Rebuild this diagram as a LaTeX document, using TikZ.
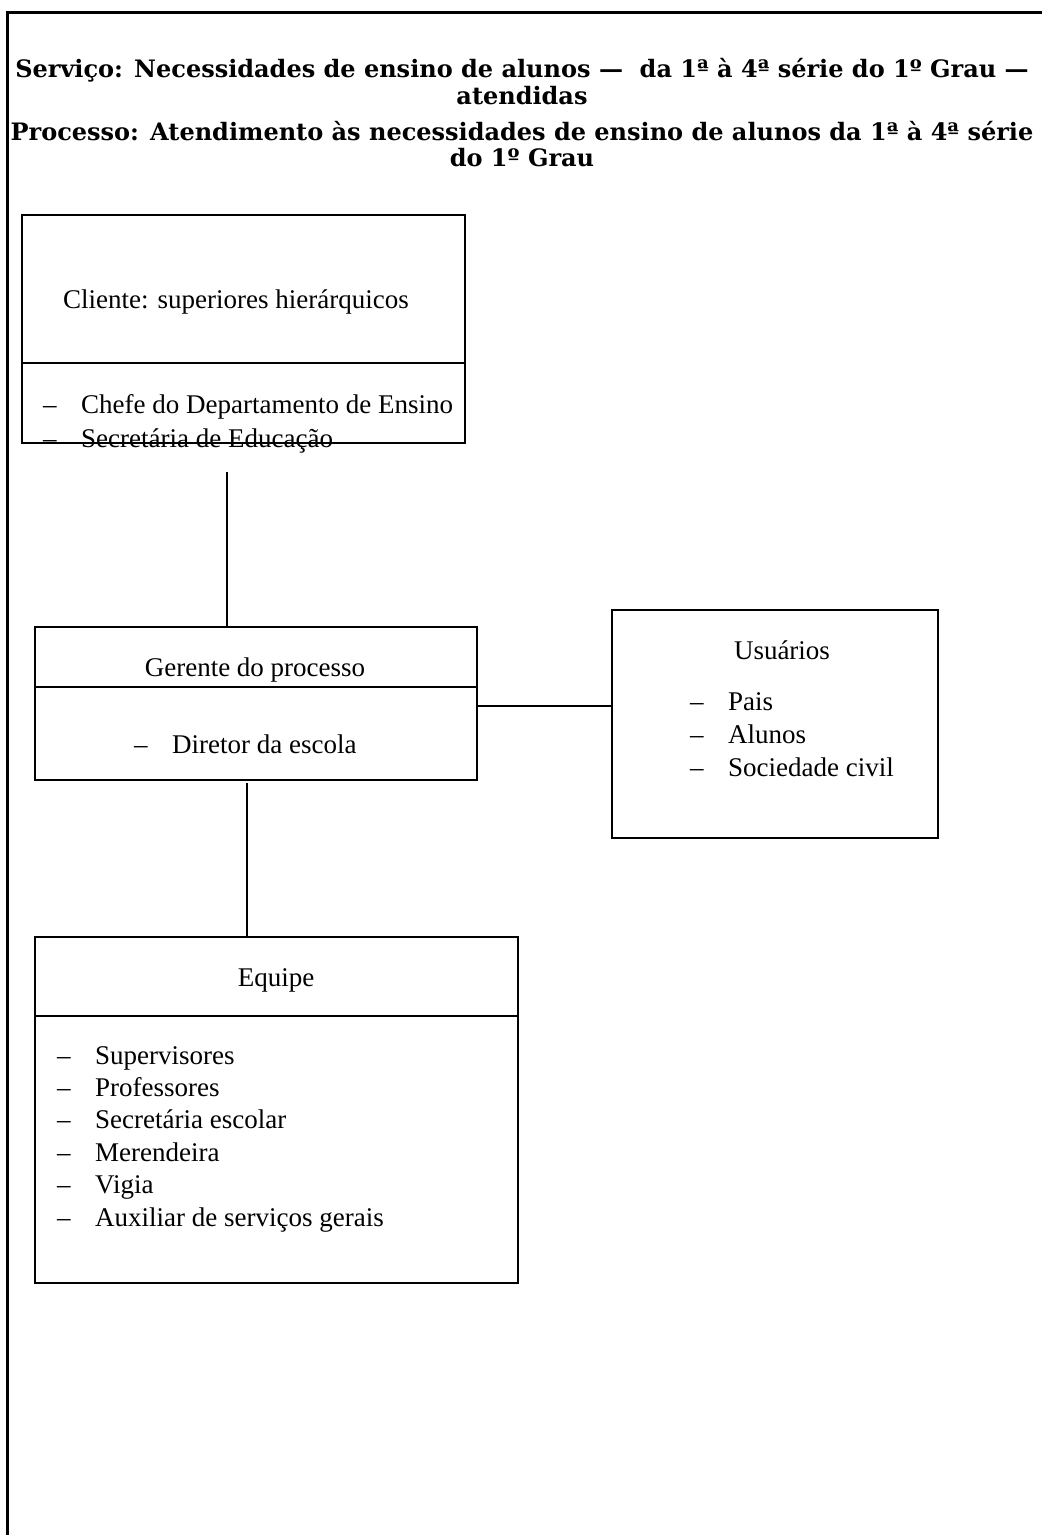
\documentclass[tikz,border=0pt]{standalone}
\usepackage{fontspec}
\setmainfont{Liberation Serif}
\newfontfamily\titlefont{DejaVu Serif}
\usetikzlibrary{positioning}

\newcommand{\dsh}{\makebox[38pt][l]{–}}

\begin{document}
\begin{tikzpicture}[
  x=1pt, y=-1pt,
  every node/.style={font=\fontsize{27}{32.5}\selectfont, inner sep=0pt},
  box/.style={draw, line width=2pt, inner sep=0pt},
  link/.style={line width=2pt},
  titletxt/.style={anchor=base, font=\titlefont\bfseries\fontsize{24}{27}\selectfont},
  item/.style={anchor=base west}
]
\useasboundingbox (0,0) rectangle (1042,1535);

%--------------------------------------------------
% page frame and title
%--------------------------------------------------
\draw[line width=3pt] (7,1535) -- (7,12) -- (1042,12);

\node[titletxt] (servico) at (522,77) {Serviço: Necessidades de ensino de alunos —\ \ da 1ª à 4ª série do 1º Grau —};
\node[titletxt] (servico2) at (522,104) {atendidas};
\node[titletxt] (processo) at (522,140) {Processo: Atendimento às necessidades de ensino de alunos da 1ª à 4ª série};
\node[titletxt] (processo2) at (522,166) {do 1º Grau};

%--------------------------------------------------
% cliente
%--------------------------------------------------
\node[box, minimum width=443pt, minimum height=228pt] (cliente) at (243.5,329) {};
\draw[link] (cliente.west |- 0,363) -- (cliente.east |- 0,363);
\node[anchor=base west] (clientetit) at (63,308) {Cliente: superiores hierárquicos};
\node[item] (chefe) at (43,413) {\dsh Chefe do Departamento de Ensino};
\node[item] (secret) at (43,447) {\dsh Secretária de Educação};

%--------------------------------------------------
% gerente
%--------------------------------------------------
\node[box, minimum width=442pt, minimum height=153pt] (gerente) at (256,703.5) {};
\draw[link] (gerente.west |- 0,687) -- (gerente.east |- 0,687);
\node[anchor=base] (gerentetit) at (255,676) {Gerente do processo};
\node[item] (diretor) at (134,753) {\dsh Diretor da escola};

%--------------------------------------------------
% usuarios
%--------------------------------------------------
\node[box, minimum width=326pt, minimum height=228pt] (usuarios) at (775,724) {};
\node[anchor=base] (usuariostit) at (782,659) {Usuários};
\foreach \t [count=\i] in {Pais, Alunos, Sociedade civil}
  \node[item] (us\i) at (690,{710+33*(\i-1)}) {\dsh \t};

%--------------------------------------------------
% equipe
%--------------------------------------------------
\node[box, minimum width=483pt, minimum height=346pt] (equipe) at (276.5,1110) {};
\draw[link] (equipe.west |- 0,1016) -- (equipe.east |- 0,1016);
\node[anchor=base] (equipetit) at (276,986) {Equipe};
\foreach \t [count=\i] in {Supervisores, Professores, Secretária escolar, Merendeira, Vigia, Auxiliar de serviços gerais}
  \node[item] (eq\i) at (57,{1064+32.4*(\i-1)}) {\dsh \t};

%--------------------------------------------------
% connectors
%--------------------------------------------------
\coordinate (c1) at (227,472);
\draw[link] (c1) -- (c1 |- gerente.north);
\draw[link] (gerente.east |- 0,706) -- (usuarios.west |- 0,706);
\coordinate (c2) at (247,783);
\draw[link] (c2) -- (c2 |- equipe.north);

\end{tikzpicture}
\end{document}
